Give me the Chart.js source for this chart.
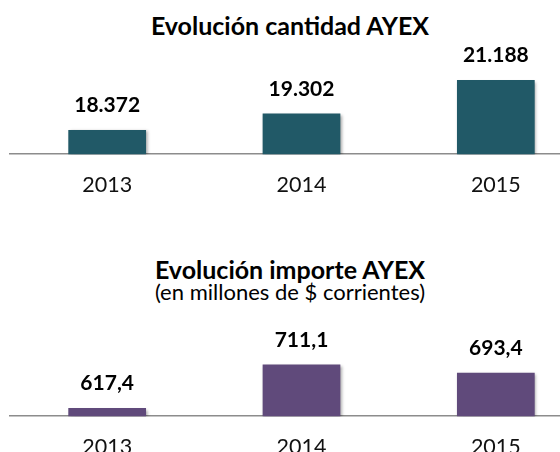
<!DOCTYPE html>
<html lang="es">
<head>
<meta charset="utf-8">
<title>Evolución AYEX</title>
<script src="https://cdn.jsdelivr.net/npm/chart.js@4.4.1/dist/chart.umd.min.js"></script>
<style>
    html, body {
        margin: 0;
        padding: 0;
        width: 560px;
        height: 452px;
        overflow: hidden;
        background: #fff;
        font-family: 'Lato', sans-serif;
    }
    .title {
        position: absolute;
        left: 0;
        width: 580px;
        text-align: center;
        color: #000;
        white-space: nowrap;
    }
    .title.main { font-weight: bold; font-size: 25px; line-height: 25px; }
    .title.sub { font-size: 22px; line-height: 22px; }
    .chart-box {
        position: absolute;
        left: 0;
        width: 600px;
    }
</style>
</head>
<body>
<div class="title main" style="top: 13px;">Evolución cantidad AYEX</div>
<div class="chart-box" style="top: 40px; height: 181px;"><canvas id="cantidad-chart"></canvas></div>

<div class="title main" style="top: 257px;">Evolución importe AYEX</div>
<div class="title sub" style="top: 281px;">(en millones de $ corrientes)</div>
<div class="chart-box" style="top: 300px; height: 183px;"><canvas id="importe-chart"></canvas></div>

<script>
const years = ['2013', '2014', '2015'];
const cantidad = [18372, 19302, 21188];
const importe = [617.4, 711.1, 693.4];
const cantidadRange = [17000, 23000];
const importeRange = [600, 800];

document.addEventListener('DOMContentLoaded', function() {
    const formatCantidad = v => v.toString().replace(/\B(?=(\d{3})+(?!\d))/g, '.');
    const formatImporte = v => v.toFixed(1).replace('.', ',');

    buildChart('cantidad-chart', cantidad, cantidadRange, '#215967', formatCantidad, 8);
    buildChart('importe-chart', importe, importeRange, '#604a7b', formatImporte, 23);

    // labels above the bars + a light shadow under them, like the Excel original
    function makeValueLabels(format) {
        return {
            id: 'valueLabels',
            beforeDatasetsDraw(chart) {
                const ctx = chart.ctx;
                ctx.save();
                ctx.shadowColor = 'rgba(0, 0, 0, 0.35)';
                ctx.shadowBlur = 3;
                ctx.shadowOffsetX = 1.5;
                ctx.shadowOffsetY = 1.5;
            },
            afterDatasetsDraw(chart) {
                const ctx = chart.ctx;
                ctx.restore();
                ctx.save();
                ctx.font = 'bold 21px Lato';
                ctx.fillStyle = '#000';
                ctx.textAlign = 'center';
                ctx.textBaseline = 'middle';
                const values = chart.data.datasets[0].data;
                chart.getDatasetMeta(0).data.forEach((bar, i) => {
                    ctx.fillText(format(values[i]), bar.x, bar.y - 24.5);
                });
                ctx.restore();
            }
        };
    }

    function buildChart(canvasId, values, range, color, format, padTop) {
        const ctx = document.getElementById(canvasId).getContext('2d');
        return new Chart(ctx, {
            type: 'bar',
            data: {
                labels: years,
                datasets: [{
                    data: values,
                    backgroundColor: color,
                    borderWidth: 0,
                    barPercentage: 0.4,
                    categoryPercentage: 1
                }]
            },
            options: {
                responsive: true,
                maintainAspectRatio: false,
                animation: false,
                layout: { padding: { top: padTop, left: 10, right: 7, bottom: 5 } },
                plugins: {
                    legend: { display: false },
                    tooltip: { enabled: false }
                },
                scales: {
                    x: {
                        grid: { display: true, drawOnChartArea: false, drawTicks: false },
                        border: { display: true, color: '#8c8c8c', width: 1.5 },
                        ticks: {
                            color: '#111',
                            padding: 18,
                            font: { family: 'Lato', size: 21.5 }
                        }
                    },
                    y: {
                        display: false,
                        min: range[0],
                        max: range[1]
                    }
                }
            },
            plugins: [makeValueLabels(format)]
        });
    }
});
</script>
</body>
</html>
